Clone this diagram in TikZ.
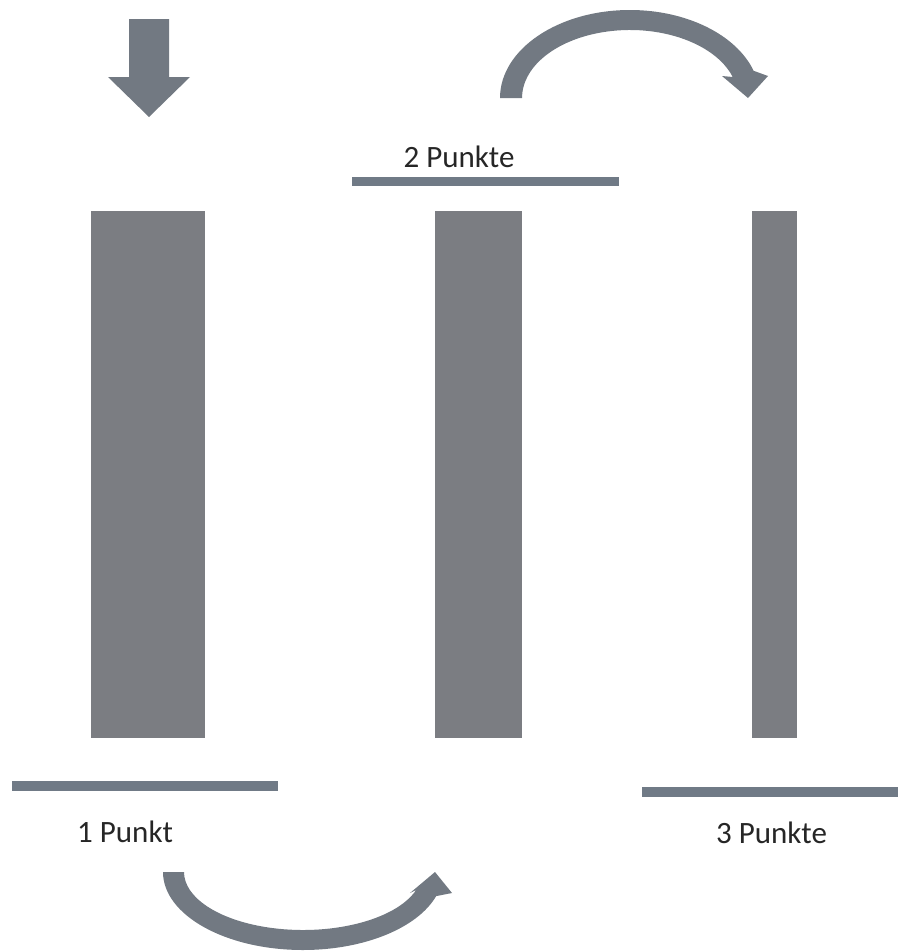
\documentclass[tikz,border=0pt]{standalone}
\usepackage{fontspec}
\setmainfont{Carlito}
\usepackage{tikz}
\usetikzlibrary{shapes.geometric, arrows, positioning, calc}
\usepackage{xcolor}
\definecolor{balkengrau}{RGB}{123, 125, 130}
\definecolor{stufengrau}{RGB}{112, 122, 134}
\definecolor{pfeilgrau}{RGB}{114, 121, 130}
\tikzstyle{balken} = [fill = balkengrau, draw = none]
\tikzstyle{stufe} = [fill = stufengrau, draw = none]
\tikzstyle{pfeil} = [fill = pfeilgrau, draw = none]
\tikzstyle{punkte} = [anchor = base, inner sep = 0pt, text = black!85, font = \fontsize{26.5}{30}\selectfont]

\begin{document}
\begin{tikzpicture}[x = 0.03cm, y = 0.03cm]
\useasboundingbox (0,0) rectangle (898,-951);
% Balken
\fill[balken] (91,-211) rectangle (205,-738);
\fill[balken] (435,-211) rectangle (522,-738);
\fill[balken] (752,-211) rectangle (797,-738);
% Stufen
\fill[stufe] (12,-781) rectangle (278,-791);
\fill[stufe] (352,-177) rectangle (619,-186);
\fill[stufe] (642,-787) rectangle (898,-797);
% Beschriftung
\node (p1) [punkte] at (125,-842) {1 Punkt};
\node (p2) [punkte] at (459,-167) {2 Punkte};
\node (p3) [punkte] at (771.5,-843) {3 Punkte};
% Pfeil nach unten
\fill[pfeil] (129,-19) -- (169,-19) -- (169,-77) -- (190,-77) -- (149,-117) -- (108,-77) -- (129,-77) -- cycle;
% Bogen oben
\fill[pfeil] (500,-98) arc[start angle = 180, end angle = 18, x radius = 130, y radius = 88]
  -- (768,-76) -- (748,-98) -- (722,-76)
  -- ($(630,-98) + (18:108 and 68)$) arc[start angle = 18, end angle = 180, x radius = 108, y radius = 68] -- cycle;
% Bogen unten
\fill[pfeil] (163,-872) arc[start angle = 180, end angle = 342, x radius = 140, y radius = 78]
  -- (452,-893) -- (435,-872) -- (410,-893)
  -- ($(303,-872) + (342:119 and 58)$) arc[start angle = 342, end angle = 180, x radius = 119, y radius = 58] -- cycle;
\end{tikzpicture}
\end{document}
